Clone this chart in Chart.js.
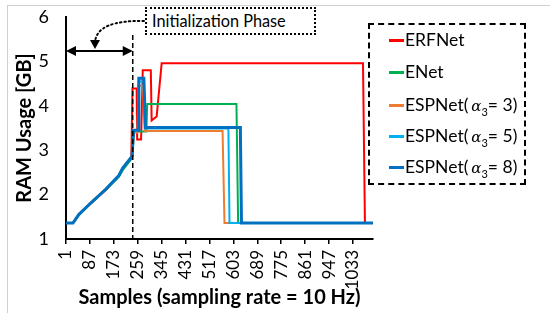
<!DOCTYPE html>
<html>
<head>
<meta charset="utf-8">
<script src="https://cdn.jsdelivr.net/npm/chart.js@4"></script>
<style>
  html, body { margin:0; padding:0; background:#fff; }
  #wrap { position:relative; width:550px; height:313px; overflow:hidden; font-family: Lato, "Open Sans", sans-serif; }
  #wrap canvas { position:absolute; left:0; top:0; }
  .frame-l { position:absolute; left:7px; top:5px; width:1px; height:308px; background:#d0d0d0; }
  .frame-t { position:absolute; left:7px; top:5px; width:543px; height:1px; background:#d0d0d0; }
  #phase { position:absolute; left:145px; top:7px; width:162px; height:24px; border:2px dotted #000;
           font-size:16.3px; line-height:24px; padding-left:5px; box-sizing:content-box; background:#fff; }
  #legend { position:absolute; left:368px; top:23px; width:154px; height:158px; border:2px dashed #000; }
  .item { position:absolute; left:19px; font-size:17.5px; white-space:nowrap; color:#000; }
  .item .sw { display:inline-block; width:15px; height:3px; vertical-align:middle; margin-right:1px; position:relative; top:-1px; }
  .item i { font-family: "DejaVu Serif", serif; font-size:15px; margin-left:3px; }
  .item sub { font-size:11px; }
</style>
</head>
<body>
<div id="wrap">
  <canvas id="c" width="550" height="313"></canvas>
  <div class="frame-l"></div>
  <div class="frame-t"></div>
  <div id="phase">Initialization Phase</div>
  <div id="legend"></div>
</div>
<script>
// --- datos ---
const seriesNames = ['ERFNet', 'ENet', 'ESPNet3', 'ESPNet5', 'ESPNet8'];
const seriesColors = ['#FF0000', '#00B050', '#ED7D31', '#00B0F0', '#0070C0'];

const erfnetS = [1, 26, 47, 90, 144, 191, 205, 236, 240, 255, 257, 271, 277, 306, 309, 327, 345, 1069, 1076, 1105];
const erfnetV = [1.36, 1.36, 1.55, 1.80, 2.10, 2.42, 2.58, 2.84, 4.39, 4.39, 3.24, 3.24, 4.80, 4.80, 3.67, 3.76, 4.96, 4.96, 1.36, 1.36];

const enetS = [1, 26, 47, 90, 144, 191, 205, 238, 241, 245, 290, 293, 614, 620, 1105];
const enetV = [1.36, 1.36, 1.54, 1.81, 2.11, 2.40, 2.55, 2.82, 2.90, 3.42, 3.42, 4.04, 4.04, 1.36, 1.36];

const esp3S = [1, 26, 47, 90, 144, 191, 205, 238, 244, 258, 262, 278, 284, 564, 571, 1105];
const esp3V = [1.36, 1.36, 1.56, 1.82, 2.13, 2.44, 2.60, 2.86, 3.40, 3.40, 4.45, 4.45, 3.43, 3.43, 1.36, 1.36];

const esp5S = [1, 26, 47, 90, 144, 191, 205, 238, 244, 259, 262, 280, 285, 585, 589, 1105];
const esp5V = [1.36, 1.36, 1.55, 1.81, 2.12, 2.43, 2.60, 2.86, 3.44, 3.44, 4.55, 4.55, 3.49, 3.49, 1.36, 1.36];

const esp8S = [1, 26, 47, 90, 144, 191, 205, 238, 244, 260, 263, 281, 287, 628, 632, 1105];
const esp8V = [1.36, 1.36, 1.55, 1.81, 2.12, 2.43, 2.60, 2.86, 3.45, 3.45, 4.62, 4.62, 3.51, 3.51, 1.36, 1.36];

const xTicks = [1, 87, 173, 259, 345, 431, 517, 603, 689, 775, 861, 947, 1033];
const yTicks = [1, 2, 3, 4, 5, 6];
const xMax = 1105;
const initEnd = 241; // fin de la fase de inicializacion

// --- helpers ---
function pts(s, v){ return s.map((x, i) => ({ x, y: v[i] })); }
const allS = [erfnetS, enetS, esp3S, esp5S, esp8S];
const allV = [erfnetV, enetV, esp3V, esp5V, esp8V];

// leyenda HTML (con alfa subindice)
const legendLabels = ['ERFNet', 'ENet', 'ESPNet(<i>α</i><sub>3</sub>= 3)', 'ESPNet(<i>α</i><sub>3</sub>= 5)', 'ESPNet(<i>α</i><sub>3</sub>= 8)'];
const legendTops = [4, 36, 69, 100, 131];
const legend = document.getElementById('legend');
legendLabels.forEach((lab, i) => {
  const d = document.createElement('div');
  d.className = 'item';
  d.style.top = legendTops[i] + 'px';
  d.innerHTML = `<span class="sw" style="background:${seriesColors[i]}"></span>${lab}`;
  legend.appendChild(d);
});

// anotaciones: linea discontinua, flecha doble, flecha punteada
const phasePlugin = {
  id: 'phase',
  afterDatasetsDraw(chart){
    const { ctx, scales:{ x }, chartArea } = chart;
    const xe = x.getPixelForValue(initEnd);
    const xs = chartArea.left;
    ctx.save();
    ctx.strokeStyle = '#000'; ctx.fillStyle = '#000';
    // vertical discontinua
    ctx.lineWidth = 1.5; ctx.setLineDash([5, 3]);
    ctx.beginPath(); ctx.moveTo(xe, 35); ctx.lineTo(xe, chartArea.bottom); ctx.stroke();
    // flecha doble
    ctx.setLineDash([]); ctx.lineWidth = 2;
    const ay = 51;
    ctx.beginPath(); ctx.moveTo(xs + 8, ay); ctx.lineTo(xe - 8, ay); ctx.stroke();
    ctx.beginPath(); ctx.moveTo(xs, ay); ctx.lineTo(xs + 10, ay - 5); ctx.lineTo(xs + 10, ay + 5); ctx.closePath(); ctx.fill();
    ctx.beginPath(); ctx.moveTo(xe, ay); ctx.lineTo(xe - 10, ay - 5); ctx.lineTo(xe - 10, ay + 5); ctx.closePath(); ctx.fill();
    // flecha curva punteada
    ctx.lineWidth = 2; ctx.setLineDash([1.5, 3]); ctx.lineCap = 'round';
    ctx.beginPath(); ctx.moveTo(144, 21); ctx.quadraticCurveTo(97, 20, 95, 42); ctx.stroke();
    ctx.setLineDash([]);
    ctx.beginPath(); ctx.moveTo(95, 49); ctx.lineTo(90, 40); ctx.lineTo(100, 40); ctx.closePath(); ctx.fill();
    ctx.restore();
  }
};

const datasets = seriesNames.map((name, i) => ({
  label: name,
  data: pts(allS[i], allV[i]),
  borderColor: seriesColors[i],
  backgroundColor: seriesColors[i],
  borderWidth: i === 4 ? 3 : 2,
  pointRadius: 0,
  tension: 0,
  order: 5 - i
}));

new Chart(document.getElementById('c'), {
  type: 'line',
  data: { datasets },
  options: {
    responsive: false,
    animation: false,
    layout: { padding: { left: 0, top: 17, right: 177, bottom: 0 } },
    plugins: { legend: { display: false }, tooltip: { enabled: false } },
    scales: {
      x: {
        type: 'linear', min: 1, max: xMax,
        afterBuildTicks: ax => { ax.ticks = xTicks.map(v => ({ value: v })); },
        afterFit: s => { s.height = 74; },
        grid: { drawOnChartArea: false, drawTicks: true, tickLength: 5, color: '#000', lineWidth: 1.5 },
        border: { color: '#000', width: 2 },
        ticks: { autoSkip: false, minRotation: 90, maxRotation: 90, padding: 6, color: '#000',
                 font: { family: 'Lato', size: 17 }, callback: v => String(v) },
        title: { display: true, text: 'Samples (sampling rate = 10 Hz)', color: '#000',
                 font: { family: 'Lato', size: 20, weight: 'bold' }, padding: { top: 0, bottom: 3 } }
      },
      y: {
        min: 1, max: 6,
        afterBuildTicks: ax => { ax.ticks = yTicks.map(v => ({ value: v })); },
        afterFit: s => { s.width = 66; },
        // marcas invisibles para separar las etiquetas del eje sin inflar el padding superior
        grid: { drawOnChartArea: false, drawTicks: true, tickLength: 17, color: 'rgba(0,0,0,0)' },
        border: { color: '#000', width: 2 },
        ticks: { padding: 0, color: '#000', font: { family: 'Lato', size: 18 } },
        title: { display: true, text: 'RAM Usage [GB]', color: '#000',
                 font: { family: 'Lato', size: 20, weight: 'bold' }, padding: { top: 13, bottom: 0 } }
      }
    }
  },
  plugins: [phasePlugin]
});
</script>
</body>
</html>
